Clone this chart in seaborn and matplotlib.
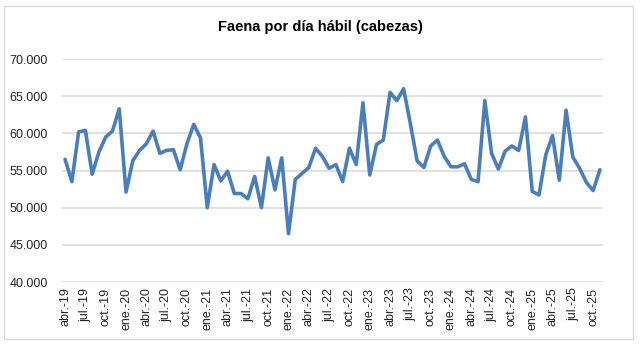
import matplotlib
matplotlib.use("Agg")
import matplotlib.pyplot as plt
import seaborn as sns
import pandas as pd
from matplotlib.patches import Rectangle

# Faena por día hábil, miles de cabezas, abr-2019 a nov-2025
faena_2019 = [56.5, 53.5, 60.2, 60.4, 54.5, 57.5, 59.5, 60.3, 63.3]
faena_2020 = [52.1, 56.3, 57.7, 58.6, 60.3, 57.3, 57.7, 57.8, 55.1, 58.6, 61.2, 59.4]
faena_2021 = [50.0, 55.8, 53.6, 54.9, 51.9, 51.9, 51.2, 54.2, 50.0, 56.7, 52.4, 56.7]
faena_2022 = [46.5, 53.8, 54.6, 55.4, 58.0, 56.9, 55.3, 55.8, 53.5, 58.0, 55.8, 64.1]
faena_2023 = [54.4, 58.5, 59.1, 65.5, 64.4, 66.0, 61.3, 56.3, 55.4, 58.3, 59.1, 56.9]
faena_2024 = [55.5, 55.5, 55.9, 53.8, 53.5, 64.4, 57.3, 55.2, 57.6, 58.3, 57.7, 62.2]
faena_2025 = [52.2, 51.7, 57.1, 59.7, 53.7, 63.1, 56.8, 55.3, 53.4, 52.3, 55.1]

meses = ["ene.", "feb.", "mar.", "abr.", "may.", "jun.",
         "jul.", "ago.", "sep.", "oct.", "nov.", "dic."]
inicio = "2019-04-01"

valores = (faena_2019 + faena_2020 + faena_2021 + faena_2022
           + faena_2023 + faena_2024 + faena_2025)
fechas = pd.date_range(inicio, periods=len(valores), freq="MS")
etiquetas = [f"{meses[d.month - 1]}-{d.year % 100:02d}" for d in fechas]

df = pd.DataFrame({
    "idx": range(len(valores)),
    "cabezas": [v * 1000 for v in valores],
})

sns.set_theme(style="white")
plt.rcParams["font.family"] = ["Liberation Sans", "DejaVu Sans"]

fig = plt.figure(figsize=(6.4, 3.44), dpi=100)
ax = fig.add_axes([61.7 / 640, 1 - 282 / 344, (603.3 - 61.7) / 640, (282 - 59) / 344])

sns.lineplot(data=df, x="idx", y="cabezas", ax=ax, color="#4a7ebb",
             linewidth=2.6, solid_joinstyle="round", solid_capstyle="round")

ax.set_xlim(-0.5, len(valores) - 0.5)
ax.set_ylim(40000, 70000)
ax.set_yticks(range(40000, 70001, 5000))
ax.set_yticklabels([f"{v:,}".replace(",", ".") for v in range(40000, 70001, 5000)],
                   fontsize=9, color="#262626")
pos = list(range(0, len(valores), 3))
ax.set_xticks(pos)
ax.set_xticklabels([etiquetas[i] for i in pos], rotation=90, fontsize=9,
                   color="#262626")
ax.tick_params(axis="y", length=0, pad=10)
ax.tick_params(axis="x", length=0, pad=4)

ax.grid(axis="y", color="#d9d9d9", linewidth=1.1)
ax.set_axisbelow(True)
for s in ax.spines.values():
    s.set_visible(False)
ax.set_xlabel("")
ax.set_ylabel("")

fig.text(0.5, 1 - 27 / 344, "Faena por día hábil (cabezas)", ha="center",
         va="center", fontsize=10.5, fontweight="bold", color="#000000")

fig.patches.append(Rectangle((4 / 640, 1 - 339 / 344), 629 / 640, 333 / 344,
                             transform=fig.transFigure, fill=False,
                             edgecolor="#d9d9d9", linewidth=1.0))

fig.savefig("out.png", dpi=100)
